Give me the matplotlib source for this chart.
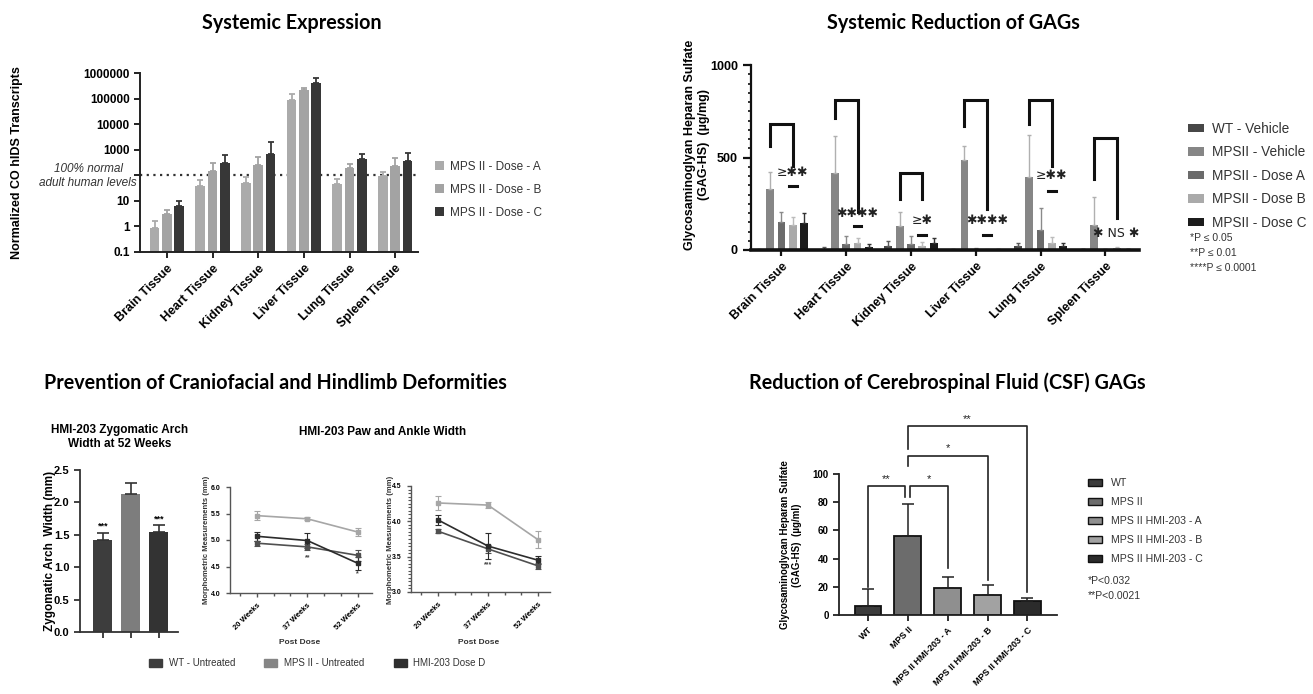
import numpy as np
import matplotlib
matplotlib.use("Agg")
import matplotlib.pyplot as plt
from matplotlib.ticker import FixedLocator, MultipleLocator, NullLocator

W, H = 1313, 694
plt.rcParams['font.family'] = ['Liberation Sans', 'DejaVu Sans']
plt.rcParams['font.weight'] = 'bold'
TITLE_FONT = ['Lato', 'DejaVu Sans']

# ---------------- data ----------------
tissues = ['Brain Tissue', 'Heart Tissue', 'Kidney Tissue', 'Liver Tissue', 'Lung Tissue', 'Spleen Tissue']

# systemic expression (log scale), upper error only
expr_doses = ['MPS II - Dose - A', 'MPS II - Dose - B', 'MPS II - Dose - C']
expr_a = [0.9, 38, 52, 90000, 44, 95]
expr_a_err = [0.7, 30, 34, 60000, 26, 45]
expr_b = [3, 150, 260, 220000, 190, 240]
expr_b_err = [1.5, 160, 260, 50000, 90, 220]
expr_c = [6.5, 310, 680, 400000, 430, 360]
expr_c_err = [3.5, 290, 1320, 230000, 220, 380]
normal_level = 100

# systemic GAG reduction
gag_groups = ['WT - Vehicle', 'MPSII - Vehicle', 'MPSII - Dose A', 'MPSII - Dose B', 'MPSII - Dose C']
gag_wt = [2, 5, 20, 2, 20, 3]
gag_wt_err = [3, 9, 27, 3, 16, 3]
gag_veh = [328, 415, 132, 484, 397, 137]
gag_veh_err = [92, 202, 72, 79, 226, 152]
gag_a = [150, 34, 34, 6, 108, 3]
gag_a_err = [56, 44, 40, 6, 121, 2]
gag_b = [135, 38, 23, 2, 40, 10]
gag_b_err = [42, 29, 22, 2, 32, 6]
gag_c = [144, 14, 38, 2, 23, 3]
gag_c_err = [58, 16, 29, 2, 15, 2]
# brackets MPSII-Vehicle vs Dose B per tissue
brk_top = [682, 812, 415, 812, 812, 605]
brk_left_end = [563, 713, 274, 671, 682, 384]
brk_right_end = [455, 208, 274, 222, 455, 171]
brk_text = ['≥✱✱', '✱✱✱✱', '≥✱', '✱✱✱✱', '≥✱✱', '✱ NS ✱']
brk_text_y = [385, 160, 126, 126, 369, 52]
brk_dash_y = [347, 130, 83, 83, 320, None]
gag_notes = ['*P ≤ 0.05', '**P ≤ 0.01', '****P ≤ 0.0001']

# zygomatic arch
zyg_groups = ['WT - Untreated', 'MPS II - Untreated', 'HMI-203 Dose D']
zyg_width = [1.42, 2.13, 1.55]
zyg_err = [0.11, 0.17, 0.10]
zyg_sig = ['***', '', '***']

# paw and ankle width
weeks = ['20 Weeks', '37 Weeks', '52 Weeks']
paw_wt = [4.94, 4.87, 4.71]
paw_wt_err = [0.05, 0.06, 0.10]
paw_mps = [5.46, 5.40, 5.15]
paw_mps_err = [0.08, 0.03, 0.08]
paw_hmi = [5.07, 4.99, 4.56]
paw_hmi_err = [0.09, 0.15, 0.12]
paw_sig = ['', '**', '*']
ank_wt = [3.86, 3.61, 3.37]
ank_wt_err = [0.03, 0.06, 0.04]
ank_mps = [4.26, 4.23, 3.74]
ank_mps_err = [0.10, 0.04, 0.12]
ank_hmi = [4.02, 3.65, 3.45]
ank_hmi_err = [0.07, 0.18, 0.06]
ank_sig = ['', '***', '']

# CSF GAGs
csf_groups = ['WT', 'MPS II', 'MPS II HMI-203 - A', 'MPS II HMI-203 - B', 'MPS II HMI-203 - C']
csf_gag = [6.4, 56, 19, 14, 10]
csf_err = [12.3, 23, 8, 7, 2.3]
# (left bar, right bar, height, left leg end, right leg end, label)
csf_brackets = [(0, 1, 91.7, 20, 84, '**'),
                (1, 2, 91.7, 84, 33, '*'),
                (1, 3, 113, 106, 25, '*'),
                (1, 4, 134, 118, 16, '**')]
csf_notes = ['*P<0.032', '**P<0.0021']


def px_axes(fig, l, t, r, b):
    return fig.add_axes([l / W, 1 - b / H, (r - l) / W, (b - t) / H])


def ftext(fig, x, y, s, **kw):
    return fig.text(x / W, 1 - y / H, s, **kw)


def style_axes(ax, lw=1.4, col='#222222'):
    for s in ['top', 'right']:
        ax.spines[s].set_visible(False)
    for s in ['left', 'bottom']:
        ax.spines[s].set_linewidth(lw)
        ax.spines[s].set_color(col)
    ax.tick_params(width=lw, color=col, length=4)


fig = plt.figure(figsize=(W / 100, H / 100), dpi=100)
TSIZE = 14.2

# ---------------- top left : systemic expression ----------------
ax1 = px_axes(fig, 140, 73, 418, 252)
ax1.set_yscale('log')
x = np.arange(len(tissues))
cols1 = ['#ababab', '#a3a3a3', '#373737']
for k, (v, e) in enumerate([(expr_a, expr_a_err), (expr_b, expr_b_err), (expr_c, expr_c_err)]):
    ax1.bar(x + (k - 1) * 0.27, v, 0.21, color=cols1[k], label=expr_doses[k],
            yerr=[np.zeros(len(v)), e],
            error_kw=dict(ecolor=cols1[k], capsize=2.5, elinewidth=1.3, capthick=1.3))
ax1.set_ylim(0.1, 1e6)
ax1.set_xlim(-0.59, 5.5)
ax1.axhline(normal_level, ls=(0, (1, 2)), color='#333333', lw=1.6, zorder=0)
ax1.yaxis.set_major_locator(FixedLocator([0.1, 1, 10, 100, 1e3, 1e4, 1e5, 1e6]))
ax1.yaxis.set_minor_locator(NullLocator())
ax1.set_yticklabels(['0.1', '1', '10', '', '1000', '10000', '100000', '1000000'], fontsize=8.5)
ax1.set_xticks(x)
ax1.set_xticklabels(tissues, rotation=45, ha='right', rotation_mode='anchor', fontsize=9)
style_axes(ax1)
ftext(fig, 88, 176, '100% normal\nadult human levels', ha='center', va='center',
      style='italic', fontweight='normal', fontsize=8.5, color='#333333', linespacing=1.25)
ftext(fig, 17, 163, 'Normalized CO hIDS Transcripts', rotation=90, ha='center', va='center', fontsize=9)
ftext(fig, 292, 23, 'Systemic Expression', ha='center', va='center', family=TITLE_FONT,
      fontsize=TSIZE, fontweight='bold')
ax1.legend(loc='upper left', bbox_to_anchor=(435 / W, 1 - 161 / H), bbox_transform=fig.transFigure,
           frameon=False, borderpad=0, borderaxespad=0, handlelength=0.8, handleheight=0.8,
           handletextpad=0.5, labelspacing=0.92, prop=dict(size=8.5, weight='normal'),
           labelcolor='#333333')

# ---------------- top right : systemic GAG reduction ----------------
ax2 = px_axes(fig, 751, 65, 1139, 250)
cols2 = ['#474747', '#868686', '#6b6b6b', '#aaaaaa', '#1c1c1c']
ecols2 = ['#5a5a5a', '#b0b0b0', '#8a8a8a', '#bcbcbc', '#333333']
gag_series = [(gag_wt, gag_wt_err), (gag_veh, gag_veh_err), (gag_a, gag_a_err),
              (gag_b, gag_b_err), (gag_c, gag_c_err)]
off2 = 0.175
for k, (v, e) in enumerate(gag_series):
    ax2.bar(x + (k - 2) * off2, v, 0.12, color=cols2[k], label=gag_groups[k],
            yerr=[np.zeros(len(v)), e],
            error_kw=dict(ecolor=ecols2[k], capsize=1.5, elinewidth=1.0, capthick=1.0), zorder=2)
for i in range(len(tissues)):
    xl = x[i] - off2
    xr = x[i] + off2
    ax2.plot([xl, xl, xr, xr], [brk_left_end[i], brk_top[i], brk_top[i], brk_right_end[i]],
             color='#111111', lw=2.2, solid_joinstyle='miter', zorder=3)
    ax2.text(xr, brk_text_y[i], brk_text[i], ha='center', va='bottom', fontsize=9,
             color='#222222', family=['DejaVu Sans'], fontweight='normal')
    if brk_dash_y[i] is not None:
        ax2.plot([xr - 0.06, xr + 0.06], [brk_dash_y[i]] * 2, color='#111111', lw=2.2)
ax2.set_ylim(0, 1000)
ax2.set_xlim(-0.47, 5.52)
ax2.set_yticks([0, 500, 1000])
ax2.yaxis.set_minor_locator(MultipleLocator(50))
ax2.tick_params(axis='y', labelsize=9)
ax2.set_xticks(x)
ax2.set_xticklabels(tissues, rotation=45, ha='right', rotation_mode='anchor', fontsize=9)
style_axes(ax2, lw=1.6, col='#111111')
ax2.spines['bottom'].set_linewidth(2.6)
ax2.tick_params(axis='y', which='minor', length=2.5, width=1.2, color='#111111')
ax2.tick_params(axis='y', which='major', length=6)
ftext(fig, 697, 145, 'Glycosaminoglyan Heparan Sulfate\n(GAG-HS)  (µg/mg)', rotation=90,
      ha='center', va='center', fontsize=9, linespacing=1.2)
ftext(fig, 953, 23, 'Systemic Reduction of GAGs', ha='center', va='center', family=TITLE_FONT,
      fontsize=TSIZE, fontweight='bold')
ax2.legend(loc='upper left', bbox_to_anchor=(1188 / W, 1 - 122 / H), bbox_transform=fig.transFigure,
           frameon=False, borderpad=0, borderaxespad=0, handlelength=1.15, handleheight=0.58,
           handletextpad=0.6, labelspacing=0.69, prop=dict(size=9.8, weight='normal'),
           labelcolor='#333333')
for j, note in enumerate(gag_notes):
    ftext(fig, 1190, 238 + 15 * j, note, ha='left', va='center', fontsize=7.5,
          fontweight='normal', color='#333333')

# ---------------- bottom left : craniofacial / hindlimb ----------------
ftext(fig, 44, 383, 'Prevention of Craniofacial and Hindlimb Deformities', ha='left', va='center',
      family=TITLE_FONT, fontsize=TSIZE, fontweight='bold')

ax3 = px_axes(fig, 80, 470, 178, 632)
cols3 = ['#3d3d3d', '#7d7d7d', '#333333']
xz = np.arange(len(zyg_groups))
ax3.bar(xz, zyg_width, 0.68, color=cols3,
        yerr=[np.zeros(len(xz)), zyg_err],
        error_kw=dict(ecolor='#333333', capsize=4, elinewidth=1.2, capthick=1.2))
for i in range(len(xz)):
    if zyg_sig[i]:
        ax3.text(xz[i], zyg_width[i] + zyg_err[i] + 0.03, zyg_sig[i], ha='center', va='bottom',
                 fontsize=6.5)
ax3.set_ylim(0, 2.5)
ax3.set_xlim(-0.82, 2.68)
ax3.set_yticks([0, 0.5, 1.0, 1.5, 2.0, 2.5])
ax3.set_yticklabels(['%.1f' % t for t in [0, 0.5, 1.0, 1.5, 2.0, 2.5]], fontsize=8)
ax3.set_xticks(xz)
ax3.set_xticklabels(['', '', ''])
style_axes(ax3, lw=1.3, col='#333333')
ftext(fig, 120, 437, 'HMI-203 Zygomatic Arch\nWidth at 52 Weeks', ha='center', va='center',
      fontsize=8.5, linespacing=1.3)
ftext(fig, 50, 551, 'Zygomatic Arch  Width (mm)', rotation=90, ha='center', va='center', fontsize=8.5)

ftext(fig, 383, 432, 'HMI-203 Paw and Ankle Width', ha='center', va='center', fontsize=8.5)
line_cols = {'wt': '#505050', 'mps': '#a6a6a6', 'hmi': '#2c2c2c'}
xw = np.arange(len(weeks))


def line_panel(ax, wt, wte, mps, mpse, hmi, hmie, sig, sig_y):
    for v, e, c in [(mps, mpse, line_cols['mps']), (wt, wte, line_cols['wt']), (hmi, hmie, line_cols['hmi'])]:
        ax.errorbar(xw, v, yerr=e, color=c, lw=1.2, marker='s', ms=2.8, capsize=2,
                    elinewidth=0.8, capthick=0.8)
    for i in range(len(xw)):
        if sig[i]:
            ax.text(xw[i], sig_y[i], sig[i], ha='center', va='center', fontsize=5, color='#444444')
    ax.set_xticks(xw)
    ax.set_xticklabels(weeks, rotation=45, ha='right', rotation_mode='anchor', fontsize=5.5)
    ax.xaxis.set_minor_locator(MultipleLocator(1 / 3))
    style_axes(ax, lw=1.0, col='#555555')
    ax.tick_params(length=3, labelsize=5.5)
    ax.tick_params(axis='x', which='minor', length=2.5, width=1.0, color='#555555')


ax4 = px_axes(fig, 230, 487, 372, 593)
line_panel(ax4, paw_wt, paw_wt_err, paw_mps, paw_mps_err, paw_hmi, paw_hmi_err, paw_sig,
           [0, 4.66, 4.36])
ax4.set_ylim(4.0, 6.0)
ax4.set_xlim(-0.53, 2.28)
ax4.set_yticks([4.0, 4.5, 5.0, 5.5, 6.0])
ax4.set_yticklabels(['%.1f' % t for t in [4.0, 4.5, 5.0, 5.5, 6.0]], fontsize=5)

ax5 = px_axes(fig, 411, 486, 550, 592)
line_panel(ax5, ank_wt, ank_wt_err, ank_mps, ank_mps_err, ank_hmi, ank_hmi_err, ank_sig,
           [0, 3.38, 0])
ax5.set_ylim(3.0, 4.5)
ax5.set_xlim(-0.54, 2.24)
ax5.set_yticks([3.0, 3.5, 4.0, 4.5])
ax5.set_yticklabels(['%.1f' % t for t in [3.0, 3.5, 4.0, 4.5]], fontsize=5)
ax5.yaxis.set_minor_locator(MultipleLocator(0.05))
ax5.tick_params(axis='y', which='minor', length=2, width=0.8, color='#555555')

for xl in [207, 391]:
    ftext(fig, xl, 540, 'Morphometric Measurements (mm)', rotation=90, ha='center', va='center',
          fontsize=5.5, color='#333333')
for xc in [300, 479]:
    ftext(fig, xc, 643, 'Post Dose', ha='center', va='center', fontsize=6, color='#333333')

zyg_handles = [plt.Rectangle((0, 0), 1, 1, color=c) for c in ['#3d3d3d', '#858585', '#2e2e2e']]
fig.legend(zyg_handles, zyg_groups, loc='center left', bbox_to_anchor=(149 / W, 1 - 663 / H),
           ncol=3, frameon=False, borderpad=0, borderaxespad=0, handlelength=1.34,
           handleheight=0.9, handletextpad=0.7, columnspacing=3.0,
           prop=dict(size=7, weight='normal'), labelcolor='#333333')

# ---------------- bottom right : CSF GAGs ----------------
ftext(fig, 749, 383, 'Reduction of Cerebrospinal Fluid (CSF) GAGs', ha='left', va='center',
      family=TITLE_FONT, fontsize=TSIZE, fontweight='bold')
ax6 = px_axes(fig, 839, 474, 1057, 615)
cols6 = ['#3b3b3b', '#6c6c6c', '#8f8f8f', '#a2a2a2', '#2b2b2b']
xc6 = np.arange(len(csf_groups))
ax6.bar(xc6, csf_gag, 0.66, color=cols6, edgecolor='#111111', linewidth=1.3,
        yerr=[np.zeros(len(xc6)), csf_err],
        error_kw=dict(ecolor='#222222', capsize=4, elinewidth=1.1, capthick=1.1))
for (i, j, hgt, le, re, lab) in csf_brackets:
    xi = xc6[i] + (0.06 if (i == 1 and j == 2) else 0)
    xj = xc6[j] - (0.06 if (i == 0 and j == 1) else 0)
    ax6.plot([xi, xi, xj, xj], [le, hgt, hgt, re], color='#222222', lw=1.2, clip_on=False)
    ax6.text((xi + xj) / 2, hgt + 1.5, lab, ha='center', va='bottom', fontsize=8,
             color='#222222', fontweight='normal')
ax6.set_ylim(0, 100)
ax6.set_xlim(-0.72, 4.74)
ax6.set_yticks([0, 20, 40, 60, 80, 100])
ax6.tick_params(axis='y', labelsize=7)
ax6.set_xticks(xc6)
ax6.set_xticklabels(csf_groups, rotation=45, ha='right', rotation_mode='anchor', fontsize=6.5)
style_axes(ax6, lw=1.3, col='#222222')
ftext(fig, 791, 545, 'Glycosaminoglycan Heparan Sulfate\n(GAG-HS)  (µg/ml)', rotation=90,
      ha='center', va='center', fontsize=7, linespacing=1.3)
csf_handles = [plt.Rectangle((0, 0), 1, 1, facecolor=c, edgecolor='#111111', linewidth=1.0)
               for c in cols6]
ax6.legend(csf_handles, csf_groups, loc='upper left', bbox_to_anchor=(1088 / W, 1 - 478 / H),
           bbox_transform=fig.transFigure, frameon=False, borderpad=0, borderaxespad=0,
           handlelength=1.35, handleheight=0.7, handletextpad=0.8, labelspacing=0.85,
           prop=dict(size=7.6, weight='normal'), labelcolor='#333333')
for j, note in enumerate(csf_notes):
    ftext(fig, 1088, 581 + 15 * j, note, ha='left', va='center', fontsize=7.5,
          fontweight='normal', color='#333333')

fig.savefig('out.png', dpi=100, facecolor='white')
